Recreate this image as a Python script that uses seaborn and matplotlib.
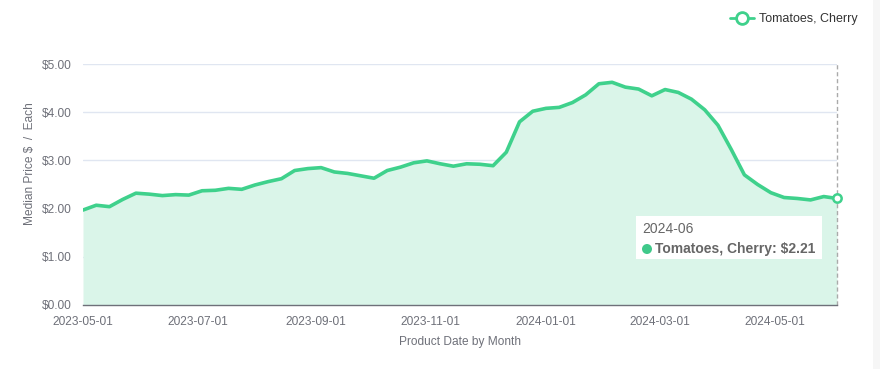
import numpy as np
import pandas as pd
import matplotlib
matplotlib.use("Agg")
import matplotlib.pyplot as plt
import matplotlib.dates as mdates
from matplotlib.lines import Line2D
from matplotlib.patches import Rectangle, Ellipse
import seaborn as sns

# ---- data ----
start_date = "2023-05-01"
n_weeks = 58
prices = [1.97, 2.07, 2.04, 2.19, 2.32, 2.30, 2.27, 2.29, 2.28, 2.37,
          2.38, 2.42, 2.40, 2.49, 2.56, 2.62, 2.79, 2.83, 2.85, 2.76,
          2.73, 2.68, 2.63, 2.79, 2.86, 2.95, 2.99, 2.93, 2.88, 2.93,
          2.92, 2.89, 3.17, 3.80, 4.02, 4.08, 4.10, 4.20, 4.36, 4.59,
          4.62, 4.52, 4.48, 4.34, 4.47, 4.41, 4.27, 4.05, 3.73, 3.23,
          2.70, 2.50, 2.33, 2.23, 2.21, 2.18, 2.25, 2.21]
series_name = "Tomatoes, Cherry"
tick_dates = ["2023-05-01", "2023-07-01", "2023-09-01", "2023-11-01",
              "2024-01-01", "2024-03-01", "2024-05-01"]
y_ticks = [0, 1, 2, 3, 4, 5]
tooltip_title = "2024-06"
tooltip_value = "Tomatoes, Cherry: $2.21"

dates = pd.date_range(start_date, periods=n_weeks, freq="7D")
df = pd.DataFrame({"date": dates, "price": prices})

# ---- style ----
sns.set_style("white")
plt.rcParams["font.family"] = ["Liberation Sans", "DejaVu Sans"]

LINE = "#3fd18c"
FILL = "#daf5e9"
GRID = "#e0e6f1"
AXIS = "#6e7079"
TXT = "#6e7079"

W, H = 880, 369
fig = plt.figure(figsize=(W / 100, H / 100), dpi=100)
ax = fig.add_axes([83 / W, 1 - 305 / H, (837 - 83) / W, (305 - 64) / H])

ax.fill_between(df["date"], df["price"], 0, color=FILL, lw=0, zorder=1)
sns.lineplot(data=df, x="date", y="price", ax=ax, color=LINE, lw=2.6,
             zorder=3, legend=False)
ax.plot(df["date"].iloc[-1], df["price"].iloc[-1], marker="o", ms=6,
        mfc="white", mec=LINE, mew=1.8, zorder=4, clip_on=False)

ax.set_xlim(dates[0], dates[-1])
ax.set_ylim(0, 5)
ax.set_yticks(y_ticks)
ax.set_yticklabels([f"${v:.2f}" for v in y_ticks])
ax.set_xticks(pd.to_datetime(tick_dates))
ax.xaxis.set_major_formatter(mdates.DateFormatter("%Y-%m-%d"))

ax.grid(axis="y", color=GRID, lw=1, zorder=0)
ax.grid(axis="x", visible=False)
for s in ["top", "right", "left"]:
    ax.spines[s].set_visible(False)
ax.spines["bottom"].set_color(AXIS)
ax.spines["bottom"].set_linewidth(1)
ax.spines["bottom"].set_zorder(5)

ax.tick_params(axis="x", colors=AXIS, length=5, width=1, labelsize=8.6,
               pad=3, labelcolor=TXT)
ax.tick_params(axis="y", length=0, labelsize=8.6, pad=8, labelcolor=TXT)

vl = ax.axvline(dates[-1], color="#aaaaaa", lw=1.0, ls=(0, (3, 2)), zorder=2)
vl.set_clip_on(False)

ax.set_xlabel("Product Date by Month", fontsize=8.6, color=TXT, labelpad=6)
ax.set_ylabel("Median Price $  /  Each", fontsize=8.6, color=TXT)
ax.yaxis.set_label_coords((36 - 83) / 754, (305 - 164) / 241)

# legend
handle = Line2D([0], [0], color=LINE, lw=2, marker="o", ms=8.5, mfc="white",
                mec=LINE, mew=2)
fig.legend([handle], [series_name], loc="center right",
           bbox_to_anchor=(869 / W, 1 - 19 / H), frameon=False,
           fontsize=9, handlelength=1.9, handletextpad=0.45,
           labelcolor="#333333")

# tooltip box
fig.patches.append(Rectangle((636 / W, 1 - 259 / H), (822 - 636) / W,
                             (259 - 216) / H, transform=fig.transFigure,
                             facecolor="white", edgecolor="none", zorder=10))
fig.text(642 / W, 1 - 229 / H, tooltip_title, fontsize=10, color="#666666",
         va="center", ha="left", zorder=11)
fig.patches.append(Ellipse((647 / W, 1 - 249 / H), 10 / W, 10 / H,
                           transform=fig.transFigure, facecolor="#3fc98a",
                           edgecolor="none", zorder=11))
fig.text(655 / W, 1 - 249 / H, tooltip_value, fontsize=10, color="#666666",
         fontweight="bold", va="center", ha="left", zorder=11)

# right edge strip
fig.patches.append(Rectangle((873 / W, 0), 7 / W, 1, transform=fig.transFigure,
                             facecolor="#f6f6f6", edgecolor="none", zorder=0))

fig.savefig("out.png", dpi=100)
